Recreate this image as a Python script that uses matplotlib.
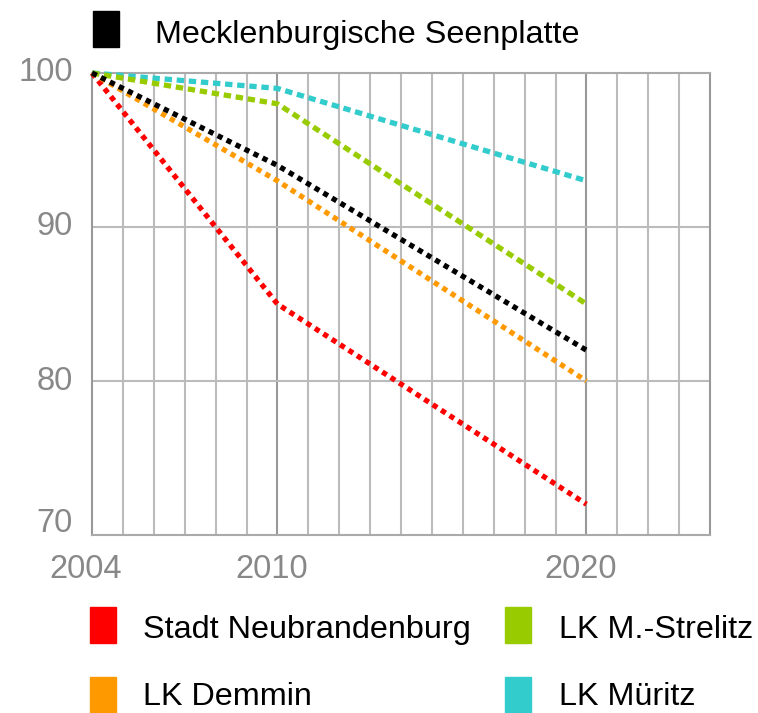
import matplotlib
matplotlib.use("Agg")
import matplotlib.pyplot as plt
from matplotlib.patches import Rectangle
from matplotlib.ticker import FixedLocator
import matplotlib.transforms as mtransforms

plt.rcParams['font.family'] = ['Liberation Sans', 'DejaVu Sans']

years = [2004, 2010, 2020]
series_names = ["Mecklenburgische Seenplatte", "Stadt Neubrandenburg", "LK Demmin",
                "LK M.-Strelitz", "LK Müritz"]
seenplatte = [100, 94, 82]
neubrandenburg = [100, 85, 72]
demmin = [100, 93, 80]
strelitz = [100, 98, 85]
mueritz = [100, 99, 93]
x_ticks = [2004, 2010, 2020]
y_ticks = [70, 80, 90, 100]

colors = {
    "Mecklenburgische Seenplatte": "#000000",
    "Stadt Neubrandenburg": "#FF0000",
    "LK Demmin": "#FF9900",
    "LK M.-Strelitz": "#99CC00",
    "LK Müritz": "#33CCCC",
}

fig = plt.figure(figsize=(7.58, 7.13), dpi=100)
W, H = 758, 713
ax = fig.add_axes([92 / W, 1 - 535 / H, (710 - 92) / W, (535 - 73) / H])

ax.set_xlim(2004, 2024)
ax.set_ylim(70, 100)

# grid
for yr in range(2005, 2024):
    c = "#999999" if yr in (2010, 2020) else "#BBBBBB"
    ax.axvline(yr, color=c, lw=1.5, zorder=1)
for yv in (80, 90):
    ax.axhline(yv, color="#BBBBBB", lw=1.5, zorder=1)

for side in ("top", "bottom"):
    ax.spines[side].set_color("#AAAAAA")
    ax.spines[side].set_linewidth(1.5)
for side in ("left", "right"):
    ax.spines[side].set_color("#999999")
    ax.spines[side].set_linewidth(1.5)

data = {
    "Stadt Neubrandenburg": neubrandenburg,
    "LK Demmin": demmin,
    "LK Müritz": mueritz,
    "LK M.-Strelitz": strelitz,
    "Mecklenburgische Seenplatte": seenplatte,
}
styles = {
    "Stadt Neubrandenburg": (0, (1, 0.9)),
    "LK Demmin": (0, (1, 0.9)),
    "LK M.-Strelitz": (0, (1.4, 0.9)),
    "LK Müritz": (0, (1.4, 0.9)),
    "Mecklenburgische Seenplatte": (0, (1, 0.9)),
}
for name, vals in data.items():
    ax.plot(years, vals, color=colors[name], lw=3.8, linestyle=styles[name],
            dash_capstyle="butt", zorder=3, clip_on=False)

ax.xaxis.set_major_locator(FixedLocator(x_ticks))
ax.yaxis.set_major_locator(FixedLocator(y_ticks))
ax.tick_params(axis="both", length=0, labelsize=23.5, labelcolor="#888888")
ax.tick_params(axis="x", pad=14)
ax.tick_params(axis="y", pad=14)
offset = mtransforms.ScaledTranslation(-6 / 100, 0, fig.dpi_scale_trans)
for lbl in ax.get_xticklabels():
    lbl.set_transform(lbl.get_transform() + offset)
for lbl in ax.get_yticklabels():
    lbl.set_verticalalignment("center")
ylabels = ax.get_yticklabels()
ylabels[0].set_transform(ylabels[0].get_transform() +
                         mtransforms.ScaledTranslation(0, 12 / 100, fig.dpi_scale_trans))

# legends
def legend_item(x_rect, y_top, x_text, y_base, name):
    fig.patches.append(Rectangle((x_rect / W, 1 - (y_top + 36) / H), 26 / W, 36 / H,
                                 transform=fig.transFigure, color=colors[name]))
    fig.text(x_text / W, 1 - y_base / H, name, fontsize=23.3, color="black",
             va="baseline", ha="left")

legend_item(93, 11, 155, 43, "Mecklenburgische Seenplatte")
legend_item(90, 607, 143, 638, "Stadt Neubrandenburg")
legend_item(505, 607, 559, 638, "LK M.-Strelitz")
legend_item(90, 677, 143, 705, "LK Demmin")
legend_item(505, 677, 559, 705, "LK Müritz")

fig.savefig("out.png", dpi=100)
